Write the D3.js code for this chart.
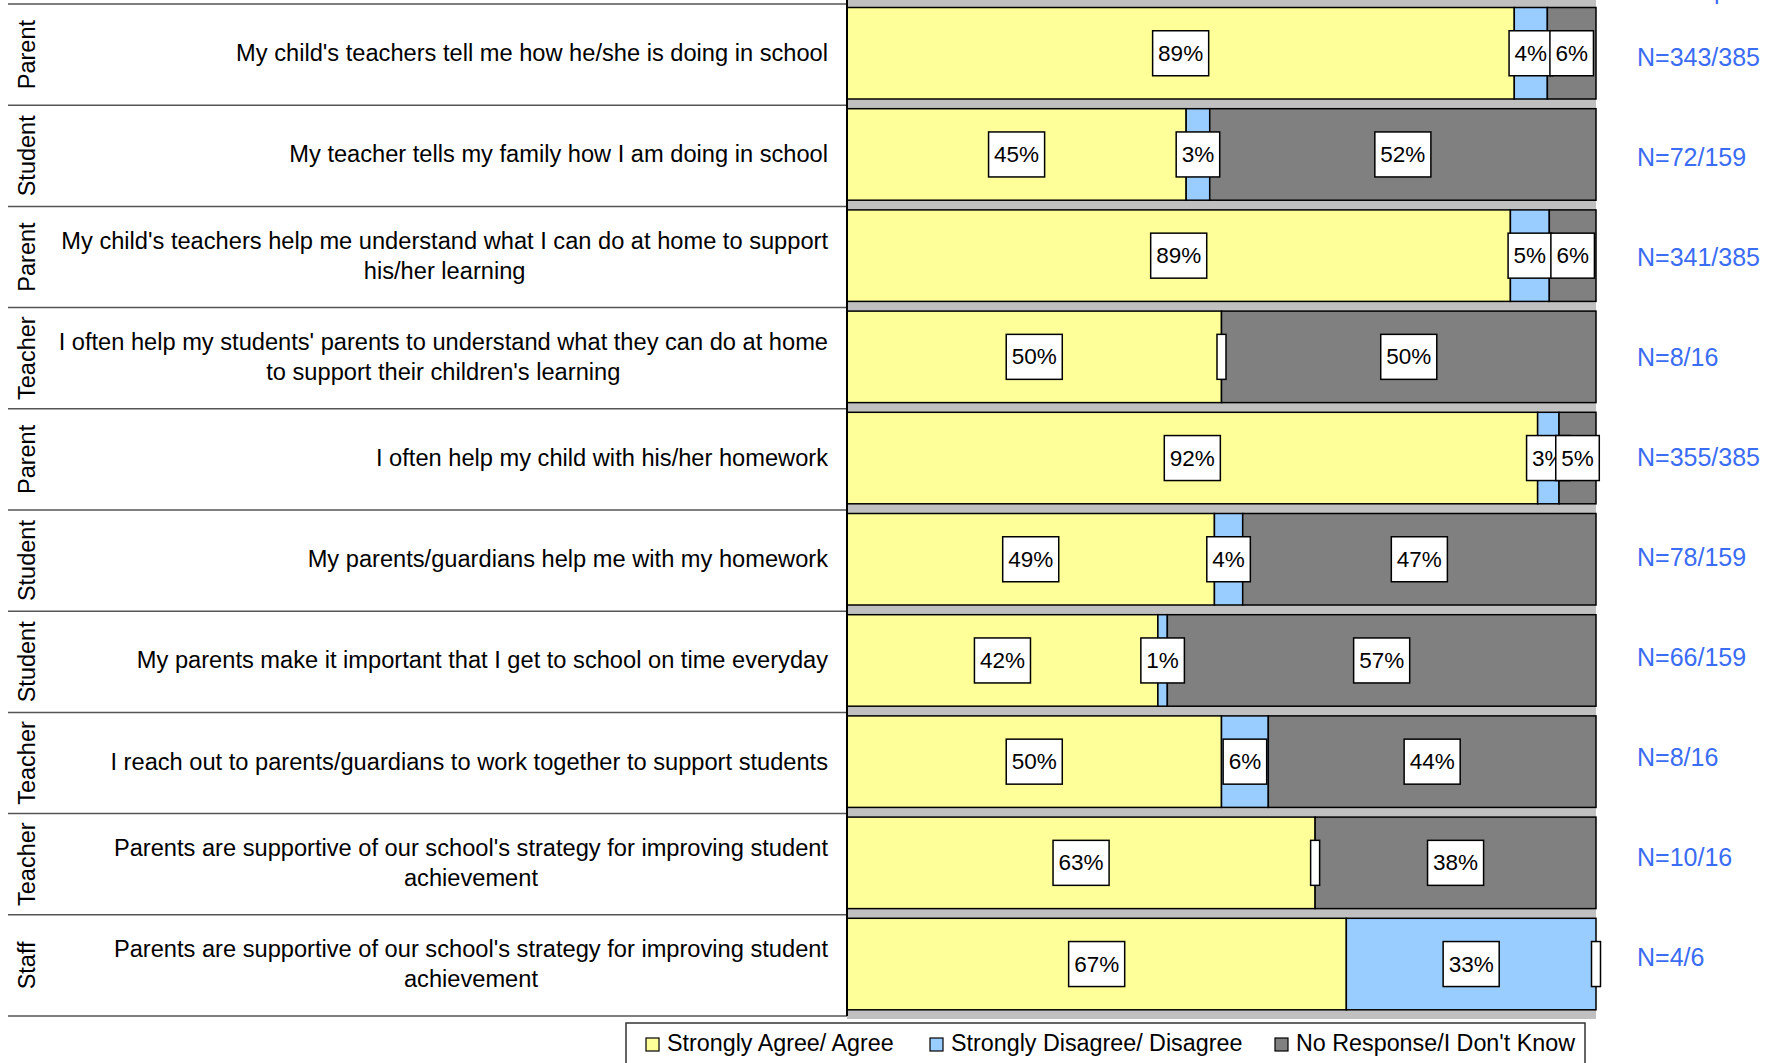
<!DOCTYPE html>
<html>
<head>
<meta charset="utf-8">
<script src="https://cdn.jsdelivr.net/npm/d3@7"></script>
<style>
  html, body { margin: 0; padding: 0; background: #ffffff; }
  svg { display: block; font-family: "Liberation Sans", Arial, Helvetica, sans-serif; }
</style>
</head>
<body>
<svg id="chart" width="1775" height="1063"></svg>
<script>
// ---------------- data ----------------
const groups = ["Parent", "Student", "Parent", "Teacher", "Parent", "Student", "Student", "Teacher", "Teacher", "Staff"];
const questions = [
  "My child's teachers tell me how he/she is doing in school",
  "My teacher tells my family how I am doing in school",
  "My child's teachers help me understand what I can do at home to support\nhis/her learning",
  "I often help my students' parents to understand what they can do at home\nto support their children's learning",
  "I often help my child with his/her homework",
  "My parents/guardians help me with my homework",
  "My parents make it important that I get to school on time everyday",
  "I reach out to parents/guardians to work together to support students",
  "Parents are supportive of our school's strategy for improving student\nachievement",
  "Parents are supportive of our school's strategy for improving student\nachievement"
];
const agree      = [343, 72, 341, 8, 355, 78, 66, 8, 10, 4];
const disagree   = [17,   5,  20, 0,  11,  6,  2, 1,  0, 2];
const noResponse = [25,  82,  24, 8,  19, 75, 91, 7,  6, 0];
const totals     = [385, 159, 385, 16, 385, 159, 159, 16, 16, 6];
const seriesNames = ["Strongly Agree/ Agree", "Strongly Disagree/ Disagree", "No Response/I Don't Know"];
const seriesColors = ["#ffff99", "#99ccff", "#808080"];

// ---------------- layout ----------------
const svg = d3.select("#chart");
const W = 1775, H = 1063;
svg.append("rect").attr("width", W).attr("height", H).attr("fill", "#fff");

const idx = d3.range(groups.length);
const x = d3.scaleLinear().domain([0, 1]).range([847, 1596]);
const y = d3.scaleBand().domain(idx).range([4, 1016]).padding(0);
const bw = y.bandwidth();
const barOff = 3.5, barH = 91.5;

// stacked data (fractions of total)
const rows = idx.map(i => {
  const vals = [agree[i], disagree[i], noResponse[i]];
  let acc = 0;
  return vals.map((v, s) => {
    const seg = { i, s, v, x0: acc / totals[i], x1: (acc + v) / totals[i] };
    acc += v;
    return seg;
  });
});

// grey 3D floor strip behind bars
svg.append("rect")
  .attr("x", x(0)).attr("y", 0)
  .attr("width", x(1) - x(0)).attr("height", y(idx.length - 1) + bw + 3)
  .attr("fill", "#c0c0c0");

// row separator lines on the left
svg.append("g").selectAll("line")
  .data(d3.range(idx.length + 1))
  .join("line")
  .attr("x1", 8).attr("x2", x(0))
  .attr("y1", d => d < idx.length ? y(d) : y(idx.length - 1) + bw)
  .attr("y2", d => d < idx.length ? y(d) : y(idx.length - 1) + bw)
  .attr("stroke", "#555").attr("stroke-width", 1.5);

// bars
const barG = svg.append("g");
rows.forEach(r => {
  barG.selectAll(null)
    .data(r.filter(d => d.v > 0))
    .join("rect")
    .attr("x", d => x(d.x0))
    .attr("y", d => y(d.i) + barOff)
    .attr("width", d => x(d.x1) - x(d.x0))
    .attr("height", barH)
    .attr("fill", d => seriesColors[d.s])
    .attr("stroke", "#000").attr("stroke-width", 1.5);
});

// left axis line
svg.append("line")
  .attr("x1", x(0)).attr("x2", x(0))
  .attr("y1", 0).attr("y2", y(idx.length - 1) + bw)
  .attr("stroke", "#000").attr("stroke-width", 2);

// data labels (white boxes)
const labG = svg.append("g");
rows.forEach(r => {
  r.forEach(d => {
    const cx = (x(d.x0) + x(d.x1)) / 2;
    const cy = y(d.i) + barOff + barH / 2;
    const g = labG.append("g");
    const txt = d.v > 0 ? Math.round(d.v / totals[d.i] * 100) + "%" : "";
    const rect = g.append("rect").attr("fill", "#fff").attr("stroke", "#000").attr("stroke-width", 1.5);
    const t = g.append("text")
      .attr("x", cx).attr("y", cy)
      .attr("text-anchor", "middle").attr("dominant-baseline", "central")
      .attr("font-size", 22.5).attr("fill", "#000")
      .text(txt);
    const tw = txt ? t.node().getComputedTextLength() : 0;
    const w = tw + (txt ? 11 : 9);
    rect.attr("x", cx - w / 2).attr("y", cy - 22.5).attr("width", w).attr("height", 45);
  });
});

// group labels (rotated)
svg.append("g").selectAll("text")
  .data(idx)
  .join("text")
  .attr("transform", i => `translate(27,${y(i) + bw / 2}) rotate(-90)`)
  .attr("text-anchor", "middle").attr("dominant-baseline", "central")
  .attr("font-size", 23.5).attr("fill", "#000")
  .text(i => groups[i]);

// question labels
const qG = svg.append("g");
idx.forEach(i => {
  const lines = questions[i].split("\n");
  const cy = y(i) + bw / 2 - 1.5;
  const lh = 30;
  const right = 828;
  const ts = lines.map((ln, k) => qG.append("text")
    .attr("y", cy + (k - (lines.length - 1) / 2) * lh)
    .attr("dominant-baseline", "central")
    .attr("font-size", 23.65).attr("fill", "#000")
    .text(ln));
  const maxW = d3.max(ts, t => t.node().getComputedTextLength());
  ts.forEach(t => t.attr("x", right - maxW / 2).attr("text-anchor", "middle"));
});

// N labels
const ny = d3.scaleLinear().domain([0, idx.length - 1]).range([56.6, 956.6]);
svg.append("g").selectAll("text")
  .data(idx)
  .join("text")
  .attr("x", 1637).attr("y", i => ny(i))
  .attr("dominant-baseline", "central")
  .attr("font-size", 25).attr("fill", "#3a6cf4")
  .text(i => `N=${agree[i]}/${totals[i]}`);

// cut-off header text at top right (only its lowest pixels show in the reference)
svg.append("text")
  .attr("x", 1637).attr("y", -1)
  .attr("font-size", 25).attr("fill", "#3a6cf4")
  .text("N=Responses/Total");

// legend
const lg = svg.append("g");
lg.append("rect")
  .attr("x", 626).attr("y", 1023).attr("width", 959).attr("height", 70)
  .attr("fill", "#fff").attr("stroke", "#333").attr("stroke-width", 1.5);
const legX = [646, 930, 1275];
seriesNames.forEach((n, s) => {
  lg.append("rect")
    .attr("x", legX[s]).attr("y", 1038).attr("width", 13).attr("height", 13)
    .attr("fill", seriesColors[s]).attr("stroke", "#000").attr("stroke-width", 1.2);
  lg.append("text")
    .attr("x", legX[s] + 21).attr("y", 1050.5)
    .attr("font-size", 23.3).attr("fill", "#000")
    .text(n);
});
</script>
</body>
</html>
